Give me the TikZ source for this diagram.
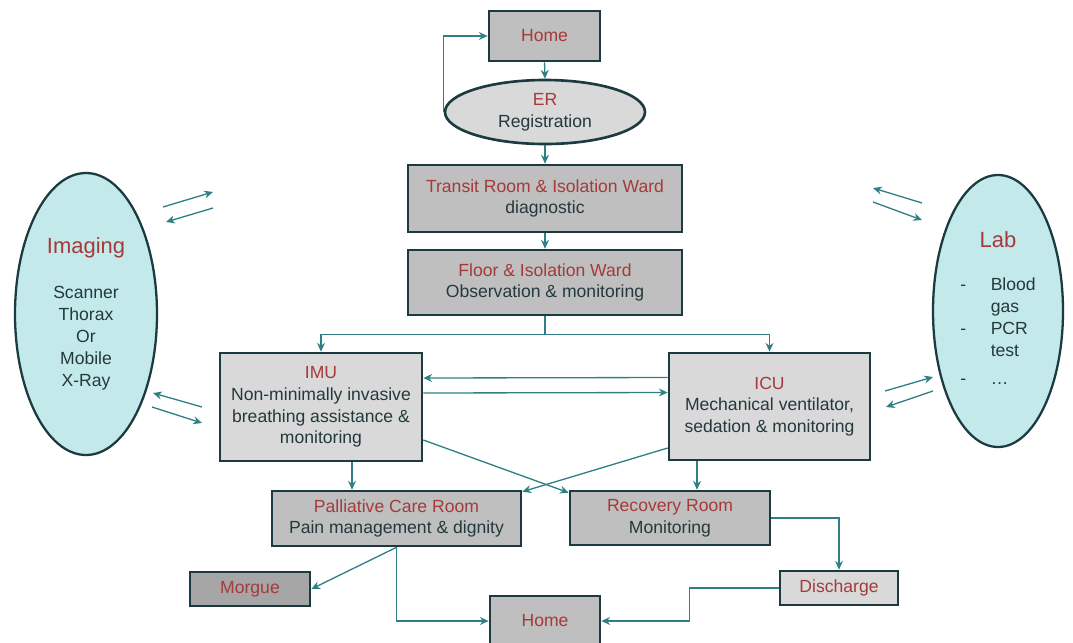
\documentclass[tikz,border=0pt]{standalone}
\usepackage{fontspec}
\setmainfont{Liberation Sans}
\usepackage{tikz}
\usetikzlibrary{arrows.meta, shapes.geometric}
\definecolor{my_teal}{HTML}{2F7F86}
\definecolor{my_border}{HTML}{1C3B40}
\definecolor{my_red}{HTML}{A53A3A}
\definecolor{my_darktext}{HTML}{24393C}
\definecolor{my_gray}{HTML}{BFBFBF}
\definecolor{my_lightgray}{HTML}{D9D9D9}
\definecolor{my_darkgray}{HTML}{A6A6A6}
\definecolor{my_cyan}{HTML}{C3E9EB}
\newcommand{\ttl}[1]{\textcolor{my_red}{#1}}

\begin{document}
\begin{tikzpicture}[
    room/.style={draw=my_border, line width=1.5pt, fill=my_gray, align=center,
        text=my_darktext, font=\fontsize{10}{12.3}\selectfont, inner sep=0pt},
    dept/.style={ellipse, draw=my_border, line width=1.3pt, fill=my_cyan, align=center,
        text=my_darktext, font=\fontsize{10}{12.5}\selectfont, inner sep=0pt},
    flow/.style={draw=my_teal, line width=0.75pt, -{Stealth[length=5pt, width=4.5pt]}}
]
\useasboundingbox (0, 0) rectangle (21.46, -12.84);

%% ---- Eingang ----
\node[room, minimum width=2.22cm, minimum height=1.0cm]
    (home1) at (10.89, -0.72) {\ttl{Home}};
\node[room, ellipse, fill=my_lightgray, minimum width=4.0cm, minimum height=1.28cm]
    (er) at (10.9, -2.24) {\ttl{ER}\\Registration};

%% ---- Stationen ----
\node[room, minimum width=5.48cm, minimum height=1.34cm]
    (transit) at (10.9, -3.97) {\ttl{Transit Room \& Isolation Ward}\\diagnostic};
\node[room, minimum width=5.48cm, minimum height=1.30cm]
    (floor) at (10.9, -5.65) {\ttl{Floor \& Isolation Ward}\\Observation \& monitoring};
\node[room, fill=my_lightgray, minimum width=4.04cm, minimum height=2.16cm]
    (imu) at (6.42, -8.14) {\ttl{IMU}\\Non-minimally invasive\\breathing assistance \&\\monitoring};
\node[room, fill=my_lightgray, minimum width=4.02cm, minimum height=2.14cm]
    (icu) at (15.39, -8.13) {\ttl{ICU}\\Mechanical ventilator,\\sedation \& monitoring};
\node[room, minimum width=4.98cm, minimum height=1.1cm]
    (pall) at (7.93, -10.37) {\ttl{Palliative Care Room}\\Pain management \& dignity};
\node[room, minimum width=4.0cm, minimum height=1.08cm]
    (rec) at (13.4, -10.36) {\ttl{Recovery Room}\\Monitoring};

%% ---- Ausgang ----
\node[room, fill=my_darkgray, minimum width=2.4cm, minimum height=0.68cm]
    (morgue) at (5.0, -11.78) {\ttl{Morgue}};
\node[room, fill=my_lightgray, minimum width=2.36cm, minimum height=0.68cm]
    (dis) at (16.78, -11.76) {\ttl{Discharge}};
\node[room, minimum width=2.2cm, minimum height=1.0cm]
    (home2) at (10.9, -12.42) {\ttl{Home}};

%% ---- Imaging und Lab ----
\node[dept, minimum width=2.84cm, minimum height=5.64cm]
    (imaging) at (1.72, -6.28)
    {{\fontsize{12.5}{14}\selectfont\ttl{Imaging}}\\[13pt]
     Scanner\\Thorax\\Or\\Mobile\\X-Ray};
\node[dept, minimum width=2.6cm, minimum height=5.44cm]
    (lab) at (19.96, -6.22)
    {{\fontsize{12.5}{14}\selectfont\ttl{Lab}}\\[15pt]
     \begin{tabular}{@{}l@{\hspace{14pt}}l@{}}
     - & Blood\\ & gas\\ - & PCR\\ & test\\[3pt] - & \dots
     \end{tabular}};

%% ---- Hauptpfad ----
\draw[flow] (home1.south) -- (er.north);
\draw[flow] (er.west) |- (home1.west);
\draw[flow] (er.south) -- (transit.north);
\draw[flow] (transit.south) -- (floor.north);
\draw[flow] (floor.south) -- ++(0, -0.36) -| (imu.north);
\draw[flow] (floor.south) -- ++(0, -0.36) -| (icu.north);

%% IMU <-> ICU
\draw[flow] ([yshift=0.58cm]icu.west) -- ([yshift=0.58cm]imu.east);
\draw[flow] ([yshift=0.28cm]imu.east) -- ([yshift=0.28cm]icu.west);

%% Verlegung nach unten
\draw[flow] ([xshift=0.62cm]imu.south) -- ([xshift=0.62cm]imu.south |- pall.north);
\draw[flow] ([xshift=-1.45cm]icu.south) -- ([xshift=-1.45cm]icu.south |- rec.north);
\draw[flow] ([yshift=-0.66cm]imu.east) -- ([yshift=-0.06cm]rec.north west);
\draw[flow] ([yshift=-0.83cm]icu.west) -- ([yshift=-0.04cm]pall.north east);

%% Ausgang
\draw[flow] (pall.south) -- (morgue.east);
\draw[flow] (pall.south) |- (home2.west);
\draw[flow] (rec.east) -| (dis.north);
\draw[flow] (dis.west) -- ++(-1.78, 0) |- (home2.east);

%% ================================================================
%% Austausch mit Imaging und Lab (freie Pfeile)
%% ================================================================
\coordinate (imgA1) at (3.26, -4.14);  \coordinate (imgA2) at (4.26, -3.84);
\coordinate (imgB1) at (4.26, -4.16);  \coordinate (imgB2) at (3.32, -4.44);
\coordinate (imgC1) at (4.04, -8.14);  \coordinate (imgC2) at (3.06, -7.86);
\coordinate (imgD1) at (3.04, -8.14);  \coordinate (imgD2) at (4.04, -8.46);
\coordinate (labA1) at (18.44, -4.06); \coordinate (labA2) at (17.46, -3.76);
\coordinate (labB1) at (17.46, -4.04); \coordinate (labB2) at (18.44, -4.40);
\coordinate (labC1) at (17.70, -7.82); \coordinate (labC2) at (18.66, -7.54);
\coordinate (labD1) at (18.66, -7.82); \coordinate (labD2) at (17.72, -8.14);
\foreach \a in {imgA, imgB, imgC, imgD, labA, labB, labC, labD} {
    \draw[flow] (\a1) -- (\a2);
}

\end{tikzpicture}
\end{document}
